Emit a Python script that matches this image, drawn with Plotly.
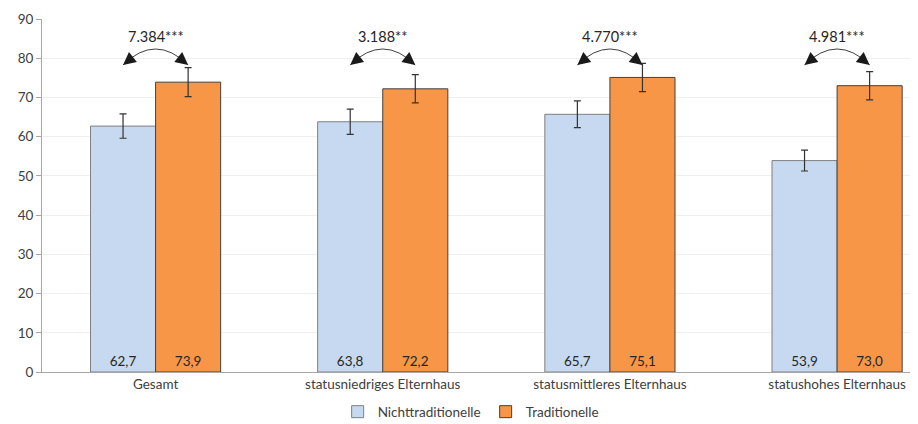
import plotly.graph_objects as go

categories = ["Gesamt", "statusniedriges Elternhaus", "statusmittleres Elternhaus", "statushohes Elternhaus"]
nicht = [62.7, 63.8, 65.7, 53.9]
trad = [73.9, 72.2, 75.1, 73.0]
nicht_err = [3.1, 3.2, 3.4, 2.65]
trad_err = [3.7, 3.6, 3.6, 3.6]
stat_labels = ["7.384***", "3.188**", "4.770***", "4.981***"]
y_ticks = [0, 10, 20, 30, 40, 50, 60, 70, 80, 90]

FONT = "Lato"
bargap = 0.427
half = (1 - bargap) / 4  # offset of each bar center from group center
xpos = list(range(len(categories)))

fig = go.Figure()
fig.add_trace(go.Bar(
    name="Nichttraditionelle", x=xpos, y=nicht,
    marker=dict(color="#c6d9f1", line=dict(color="#7f7f7f", width=1)),
    error_y=dict(type="data", array=nicht_err, color="#333333", thickness=1.2, width=3.5),
    texttemplate="%{y:.1f}", textposition="inside", insidetextanchor="start",
    textfont=dict(family=FONT, size=13.5, color="#262626"),
))
fig.add_trace(go.Bar(
    name="Traditionelle", x=xpos, y=trad,
    marker=dict(color="#f79646", line=dict(color="#404040", width=1)),
    error_y=dict(type="data", array=trad_err, color="#333333", thickness=1.2, width=3.5),
    texttemplate="%{y:.1f}", textposition="inside", insidetextanchor="start",
    textfont=dict(family=FONT, size=13.5, color="#262626"),
))

y_end = 78.3
y_ctrl = 86.4
y_text = 85.5
for i, lab in enumerate(stat_labels):
    x0 = i - half
    x1 = i + half
    fig.add_shape(type="path", xref="x", yref="y",
                  path=f"M {x0},{y_end} Q {i},{y_ctrl} {x1},{y_end}",
                  line=dict(color="#404040", width=1))
    fig.add_annotation(x=x0, y=y_end, xref="x", yref="y", ax=10, ay=-8, text="",
                       showarrow=True, arrowhead=2, arrowsize=2.3, arrowwidth=1.1,
                       arrowcolor="#1a1a1a", standoff=0)
    fig.add_annotation(x=x1, y=y_end, xref="x", yref="y", ax=-10, ay=-8, text="",
                       showarrow=True, arrowhead=2, arrowsize=2.3, arrowwidth=1.1,
                       arrowcolor="#1a1a1a", standoff=0)
    fig.add_annotation(x=i, y=y_text, xref="x", yref="y", text=lab, showarrow=False,
                       font=dict(family=FONT, size=14.5, color="#262626"), yanchor="middle")

# page body has an 8px default margin, so the figure is sized to fit the window
fig.update_layout(
    width=910, height=416,
    margin=dict(l=34, r=3, t=11, b=52, autoexpand=False),
    paper_bgcolor="white", plot_bgcolor="white",
    barmode="group", bargap=bargap, bargroupgap=0,
    separators=",.",
    font=dict(family=FONT, size=13, color="#595959"),
    showlegend=True,
    legend=dict(orientation="h", xref="paper", yref="paper",
                x=0.491, xanchor="center", y=-0.113, yanchor="middle",
                font=dict(family=FONT, size=13.5, color="#404040"),
                itemwidth=30, traceorder="normal"),
    xaxis=dict(range=[-0.5, 3.343], tickvals=xpos, ticktext=categories,
               showgrid=False, showline=True, linecolor="#a6a6a6", linewidth=1,
               ticks="", tickfont=dict(family=FONT, size=13.5, color="#404040"),
               zeroline=False, automargin=False),
    yaxis=dict(range=[0, 90], tickvals=y_ticks, showgrid=True, gridcolor="#efefef",
               gridwidth=1, showline=True, linecolor="#a6a6a6", linewidth=1,
               ticks="outside", ticklen=5, tickcolor="#a6a6a6",
               tickfont=dict(family=FONT, size=13.5, color="#404040"),
               zeroline=False, automargin=False),
)

fig.write_html("out.html")
